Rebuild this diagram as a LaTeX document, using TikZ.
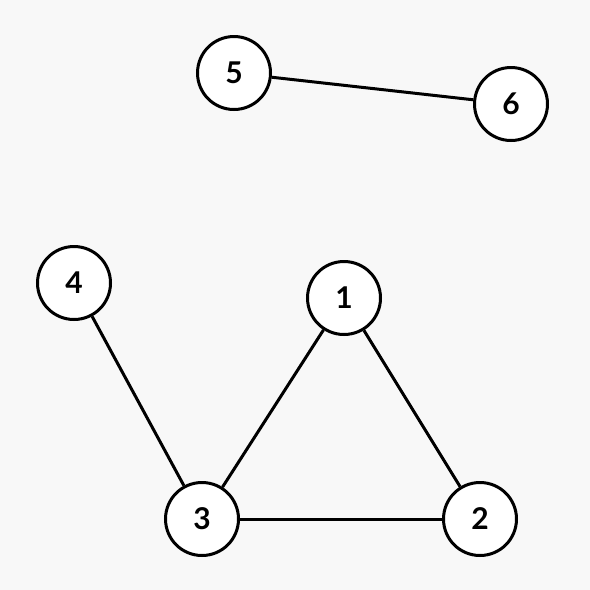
\documentclass[tikz,border=0pt]{standalone}
\usepackage{fontspec}
\setmainfont{Lato}
\definecolor{bggray}{RGB}{248,248,248}
\usetikzlibrary{positioning}

\begin{document}
\begin{tikzpicture}[
    x=1pt, y=-1pt,
    vert/.style={draw, circle, fill=white, line width=3pt, minimum size=73pt, inner sep=0pt, font=\fontsize{30}{30}\selectfont\bfseries},
    edge/.style={line width=3pt}
]
    % Background
    \fill[bggray] (0, 0) rectangle (590, 590);
    \useasboundingbox (0, 0) rectangle (590, 590);

    % Vertices
    \node[vert] (n5) at (234, 73) {5};
    \node[vert] (n6) at (511, 104) {6};
    \node[vert] (n4) at (74, 283) {4};
    \node[vert] (n1) at (344, 298) {1};
    \node[vert] (n3) at (202, 519) {3};
    \node[vert] (n2) at (480, 519) {2};

    % Edges
    \draw[edge] (n5) -- (n6);
    \draw[edge] (n4) -- (n3);
    \draw[edge] (n1) -- (n3);
    \draw[edge] (n1) -- (n2);
    \draw[edge] (n3) -- (n2);
\end{tikzpicture}
\end{document}
